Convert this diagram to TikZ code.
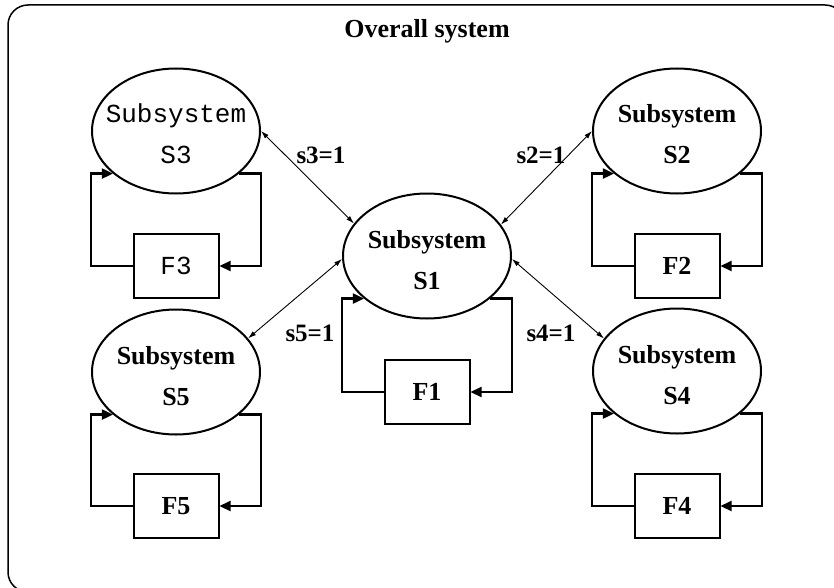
\documentclass[tikz,border=0pt]{standalone}
\usepackage{fontspec}
\setmainfont{Liberation Serif}
\newfontfamily\cour{Liberation Mono}
\usetikzlibrary{arrows.meta,shapes.geometric}
\newcommand\twolines[2]{\makebox[0pt][c]{\raisebox{8pt}[0pt][0pt]{#1}}\makebox[0pt][c]{\raisebox{-33pt}[0pt][0pt]{#2}}}
\begin{document}
\begin{tikzpicture}[x=1pt,y=-1pt,
 sub/.style={ellipse,draw,line width=2pt,minimum width=168pt,minimum height=125pt,inner sep=0pt,font=\fontsize{26}{41}\selectfont\bfseries},
 subm/.style={sub,font=\fontsize{26}{40}\selectfont\cour},
 fbox/.style={rectangle,draw,line width=2pt,minimum width=85pt,minimum height=64pt,inner sep=0pt,font=\fontsize{26}{30}\selectfont\bfseries},
 fboxm/.style={fbox,font=\fontsize{26}{30}\selectfont\cour},
 fb/.style={line width=2.2pt,-{Triangle[length=11pt,width=10pt]}},
 link/.style={line width=0.9pt,{Latex[length=8pt,width=5pt]}-{Latex[length=8pt,width=5pt]}},
 lab/.style={font=\fontsize{25}{30}\selectfont\bfseries,inner sep=0pt}
]
\useasboundingbox (0,0) rectangle (834,588);
\draw[line width=1.5pt,rounded corners=20pt] (8,5) rectangle (845,592);
\node[lab,font=\fontsize{26}{30}\selectfont\bfseries] (title) at (427,31) {Overall system};

\node[sub]  (S1) at (427,256) {\twolines{Subsystem}{S1}};
\node[sub]  (S2) at (677,131) {\twolines{Subsystem}{S2}};
\node[subm] (S3) at (176,131) {\twolines{Subsystem}{S3}};
\node[sub]  (S4) at (677,371) {\twolines{Subsystem}{S4}};
\node[sub]  (S5) at (176,372) {\twolines{Subsystem}{S5}};

\node[fbox]  (F1) at (427,392) {F1};
\node[fbox]  (F2) at (677,266) {F2};
\node[fboxm] (F3) at (176,266) {F3};
\node[fbox]  (F4) at (677,506) {F4};
\node[fbox]  (F5) at (176,506) {F5};

\foreach \i in {1,...,5}{
  \draw[fb] (S\i.-34) -- (S\i.-34 -| S\i.east) |- (F\i.east);
  \draw[fb] (F\i.west) -| (S\i.west |- S\i.214) -- (S\i.214);
}

\draw[link] (S3.0) -- (S1.156);
\draw[link] (S2.180) -- (S1.23);
\draw[link] (S5.25) -- (S1.182);
\draw[link] (S4.156) -- (S1.-2);

\node[lab] (l3) at (321,155) {s3=1};
\node[lab] (l2) at (541,155) {s2=1};
\node[lab] (l5) at (310,333) {s5=1};
\node[lab] (l4) at (551,333) {s4=1};
\end{tikzpicture}
\end{document}
